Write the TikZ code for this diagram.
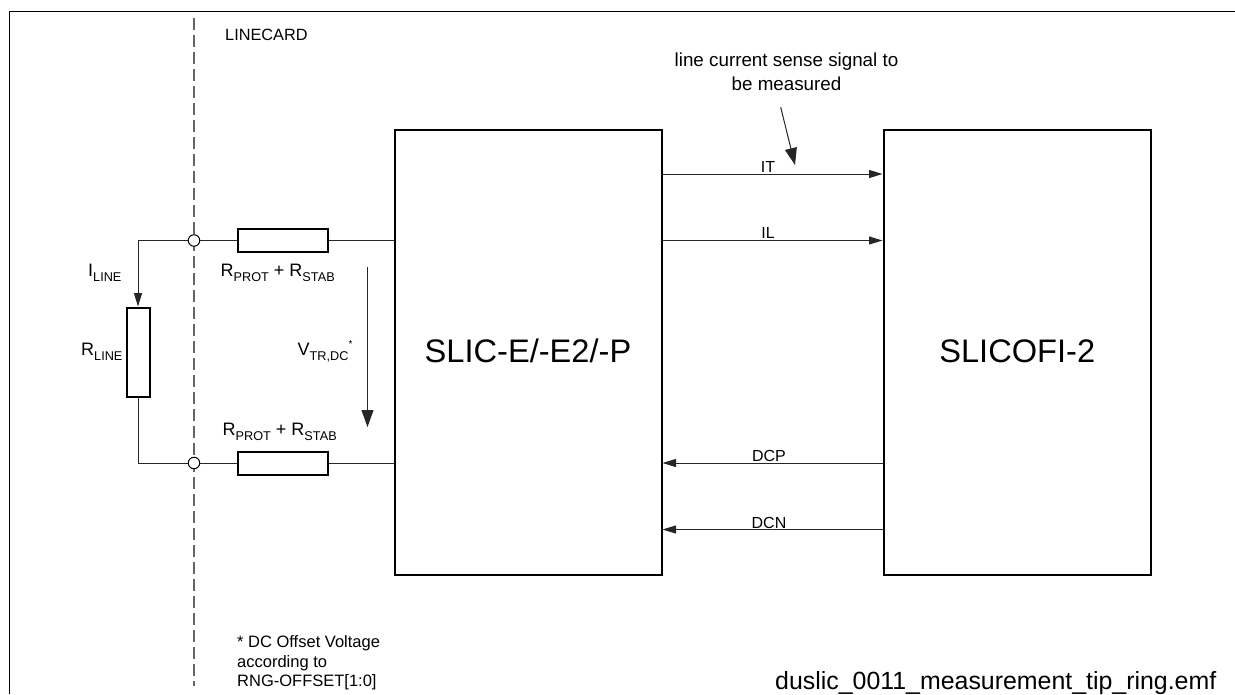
\documentclass[tikz,border=0pt]{standalone}
\usepackage{fontspec}
\setmainfont{Liberation Sans}
\usetikzlibrary{arrows.meta}
\newcommand{\fsz}[1]{\fontsize{#1}{#1}\selectfont}
\newcommand{\sbs}[2]{#1\raisebox{-5pt}{\fsz{12.7}#2}}
\tikzset{
  x=1pt,y=-1pt,
  frameline/.style={draw=black,line width=1.4pt},
  wire/.style={draw=black!85,line width=1pt},
  sig/.style={wire,-{Triangle[length=13.5pt,width=8pt]}},
  bigsig/.style={wire,-{Triangle[length=17pt,width=12pt]}},
  chip/.style={draw=black,line width=2pt,fill=white,inner sep=0pt,font=\fsz{32.6}},
  res/.style={draw=black,line width=2pt,fill=white,inner sep=0pt},
  term/.style={circle,draw=black,line width=1pt,fill=white,minimum size=11.5pt,inner sep=0pt},
  lab/.style={inner sep=0pt,font=\fsz{16}},
  sym/.style={inner sep=0pt,font=\fsz{18}},
}
\begin{document}
\begin{tikzpicture}
\useasboundingbox (0,0) rectangle (1235,694);
\fill[white] (0,0) rectangle (1235,694);
\draw[frameline] (9.5,694) -- (9.5,11.5) -- (1235,11.5);
\draw[draw=black!60,line width=1.1pt,dash pattern=on 12pt off 5pt] (194,18) -- (194,686);
\node[lab,anchor=base west,font=\fsz{16.3}] (linecard) at (225,40.5) {LINECARD};
\node[chip,minimum width=267pt,minimum height=445pt] (slic) at (528,352) {\raisebox{2pt}{SLIC-E/-E2/-P}};
\node[chip,minimum width=267.5pt,minimum height=445pt] (ofi) at (1017.25,352) {\raisebox{2pt}{SLICOFI-2}};
\node[res,minimum width=90pt,minimum height=23pt] (rt) at (283,240.5) {};
\node[res,minimum width=90pt,minimum height=23pt] (rb) at (283,463) {};
\node[res,minimum width=23pt,minimum height=89pt] (rl) at (138,352) {};
\node[term] (tt) at (194,240.5) {};
\node[term] (tb) at (194,463) {};
\coordinate (ct) at (138,240.5);
\coordinate (cb) at (138,463);
\draw[wire] (slic.west |- rt) -- (rt.east);
\draw[wire] (rb.east) -- (slic.west |- rb);
\draw[wire] (rt.west) -- (tt);
\draw[wire] (rb.west) -- (tb);
\draw[sig] (tt) -- (ct) -- (rl.north);
\draw[wire] (rl.south) -- (cb) -- (tb);
\coordinate (vs) at (367.5,267);
\coordinate (ve) at (367.5,427);
\draw[bigsig] (vs) -- (ve);
\node[sym,anchor=base west] (iline) at (88,276) {\sbs{I}{LINE}};
\node[sym,anchor=base west] (rline) at (81,355) {\sbs{R}{LINE}};
\node[sym,anchor=base west] (rp1) at (220.5,276.5) {\sbs{R}{PROT} + \sbs{R}{STAB}};
\node[sym,anchor=base west] (rp2) at (222.5,435) {\sbs{R}{PROT} + \sbs{R}{STAB}};
\node[sym,anchor=base west] (vtr) at (297.5,355) {\sbs{V}{TR,DC}\raisebox{8pt}{\fsz{10}*}};
\draw[sig] (slic.east |- 0,174) -- (ofi.west |- 0,174);
\draw[sig] (slic.east |- 0,240.5) -- (ofi.west |- 0,240.5);
\draw[sig] (ofi.west |- 0,463) -- (slic.east |- 0,463);
\draw[sig] (ofi.west |- 0,529.5) -- (slic.east |- 0,529.5);
\node[lab,anchor=base] (it) at (768,172) {IT};
\node[lab,anchor=base] (il) at (768,238) {IL};
\node[lab,anchor=base] (dcp) at (769,461) {DCP};
\node[lab,anchor=base] (dcn) at (769,528.5) {DCN};
\node[lab,align=center,anchor=base,font=\fsz{18.8}] (note) at (786.5,66.7) {line current sense signal to};
\node[lab,anchor=base,font=\fsz{18.8}] (note2) at (786.5,90) {be measured};
\coordinate (ns) at (780.7,107.3);
\coordinate (ne) at (795,165);
\draw[bigsig] (ns) -- (ne);
\node[lab,anchor=base west,font=\fsz{16.5}] (foot1) at (237,647.5) {* DC Offset Voltage};
\node[lab,anchor=base west,font=\fsz{16.5}] (foot2) at (237,667) {according to};
\node[lab,anchor=base west,font=\fsz{16.5}] (foot3) at (237,686.5) {RNG-OFFSET[1:0]};
\node[inner sep=0pt,anchor=base west,font=\fsz{24.9}] (fname) at (775,689) {duslic\_0011\_measurement\_tip\_ring.emf};
\end{tikzpicture}
\end{document}
